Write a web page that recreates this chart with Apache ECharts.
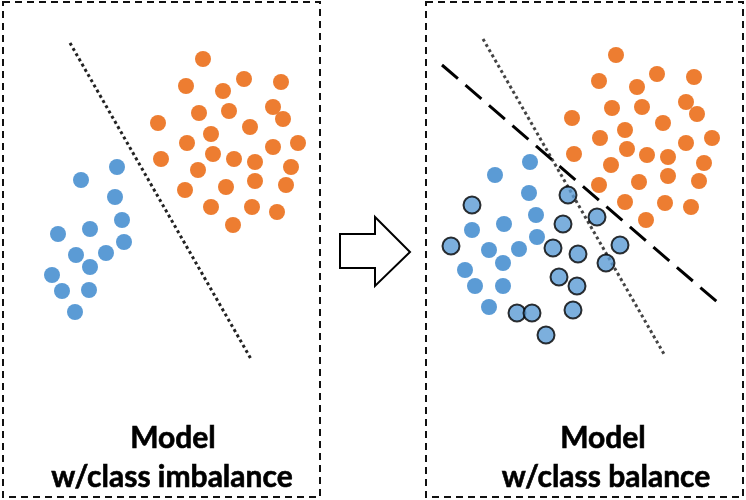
<!DOCTYPE html>
<html>
<head>
<meta charset="utf-8">
<script src="https://cdn.jsdelivr.net/npm/echarts@6/dist/echarts.min.js"></script>
<style>html,body{margin:0;padding:0;background:#fff}#c{width:746px;height:500px}</style>
</head>
<body>
<div id="c"></div>
<script>
// Left panel: model trained with class imbalance
const leftOrange = [[203,59],[186,86],[244,79],[281,82],[223,91],[199,113],[229,111],[273,107],[283,119],[158,123],[250,127],[211,134],[187,143],[298,143],[273,147],[161,159],[213,154],[234,159],[255,162],[198,170],[291,167],[255,181],[226,187],[286,185],[185,190],[211,207],[252,207],[277,212],[233,225]];
const leftBlue = [[117,167],[81,180],[115,197],[122,220],[58,234],[90,229],[124,242],[76,255],[106,253],[90,267],[52,275],[62,291],[89,290],[75,312]];
const leftBoundary = [[70,43],[251,359]];

// Right panel: model trained with class balance
const rightOrange = [[616,55],[599,81],[657,74],[694,77],[637,87],[612,108],[642,107],[686,102],[697,114],[572,118],[663,123],[625,130],[600,138],[712,138],[686,143],[574,154],[627,149],[647,155],[668,157],[611,165],[704,163],[668,176],[639,182],[699,181],[599,185],[625,202],[665,203],[691,207],[646,220]];
const rightBlue = [[530,162],[495,175],[529,193],[536,215],[472,230],[504,224],[537,237],[489,250],[519,249],[503,263],[465,270],[475,286],[503,286],[489,307]];
const rightSynthetic = [[568,195],[472,205],[597,217],[563,224],[451,246],[620,245],[553,248],[578,254],[606,263],[559,277],[577,286],[573,310],[517,313],[532,313],[546,335]];
const rightOldBoundary = [[483,39],[664,354]];
const rightNewBoundary = [[442,65],[723,307]];

const captionsLeft = ['Model', 'w/class imbalance'];
const captionsRight = ['Model', 'w/class balance'];

const ORANGE = '#ED7D31', BLUE = '#5B9BD5';
const chart = echarts.init(document.getElementById('c'), null, {renderer:'canvas'});

function dot(data, color, extra) {
  return Object.assign({type:'scatter', data, symbol:'circle', symbolSize:16,
    itemStyle:{color, opacity:1}, silent:true, z:3}, extra||{});
}
function line(data, ls) {
  return {type:'line', data, symbol:'none', silent:true, lineStyle:ls, z:2};
}
function boxAt(x1,y1,x2,y2){
  return {type:'rect', shape:{x:x1,y:y1,width:x2-x1,height:y2-y1},
    style:{fill:'none', stroke:'#111', lineWidth:2, lineDash:[7,5]}, silent:true};
}
const font = 'bold 30px Lato';
function caption(x, y, text){
  return {type:'text', x, y, style:{text, font, fill:'#000', align:'center', verticalAlign:'alphabetic', stroke:'#000', lineWidth:0.6}, silent:true};
}

chart.setOption({
  animation:false,
  grid:{left:0,right:0,top:0,bottom:0},
  xAxis:{type:'value', min:0, max:746, show:false},
  yAxis:{type:'value', min:0, max:500, inverse:true, show:false},
  series:[
    line(leftBoundary, {color:'#222', width:3, type:[3,3]}),
    dot(leftOrange, ORANGE),
    dot(leftBlue, BLUE),
    line(rightOldBoundary, {color:'#444', width:3, type:[3,3]}),
    line(rightNewBoundary, {color:'#000', width:3, type:[21,10]}),
    dot(rightOrange, ORANGE),
    dot(rightBlue, BLUE),
    dot(rightSynthetic, BLUE, {symbolSize:17, itemStyle:{color:BLUE, borderColor:'#000', borderWidth:2}, z:4})
  ],
  graphic:[
    boxAt(3,2,320,497),
    boxAt(426,2,743,497),
    {type:'polygon', shape:{points:[[340,234],[375,234],[375,217],[410,252],[375,286],[375,268],[340,268]]},
      style:{fill:'#fff', stroke:'#000', lineWidth:2}, silent:true},
    caption(173,423,captionsLeft[0]),
    caption(172,462,captionsLeft[1]),
    caption(603,423,captionsRight[0]),
    caption(606,462,captionsRight[1])
  ]
});
</script>
</body>
</html>
